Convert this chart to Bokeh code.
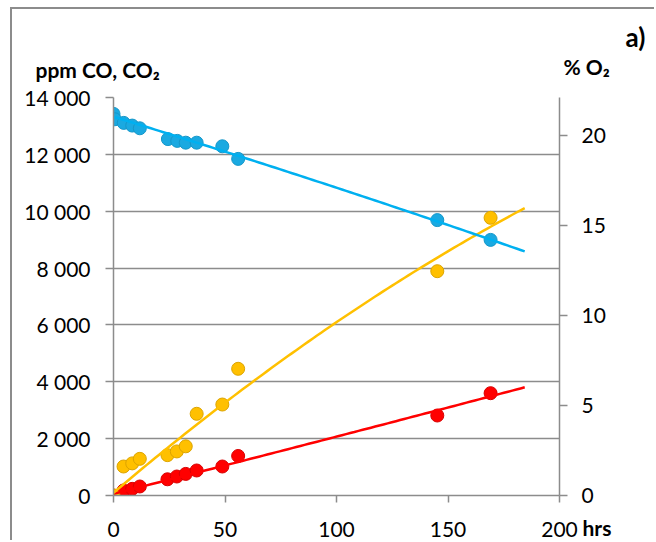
import numpy as np
from bokeh.plotting import figure
from bokeh.models import (Range1d, LinearAxis, FixedTicker, Label)
from bokeh.embed import file_html
from bokeh.resources import INLINE

# ---- data ----
t_co = [0, 4.5, 8.4, 11.8, 24.2, 28.4, 32.4, 37.3, 48.8, 55.9, 145.2, 169.1]
co_ppm = [0, 176, 234, 317, 570, 668, 760, 880, 1020, 1390, 2814, 3599]
co2_ppm = [0, 1020, 1130, 1290, 1420, 1550, 1730, 2874, 3200, 4457, 7890, 9768]

t_o2 = [0, 0.6, 4.6, 8.4, 11.8, 24.4, 28.6, 32.4, 37.3, 48.8, 55.9, 145.2, 169.1]
o2_pct = [21.2, 20.9, 20.7, 20.55, 20.4, 19.8, 19.7, 19.6, 19.6, 19.4, 18.7, 15.3, 14.2]

# trendline values
trend_co_t = [0, 66.1, 97.5, 129, 184.4]
trend_co = [60, 1372, 2051, 2638, 3810]
trend_co2_t = [0, 46.6, 66.1, 90, 129, 184.4]
trend_co2 = [70, 3106, 4282, 5453, 7589, 10121]
trend_o2_t = [0, 13.6, 79.6, 129, 184.4]
trend_o2 = [21.05, 20.5, 17.96, 15.87, 13.57]

x_ticks = [0, 50, 100, 150, 200]
left_ticks = [0, 2000, 4000, 6000, 8000, 10000, 12000, 14000]
left_labels = ["0", "2 000", "4 000", "6 000", "8 000", "10 000", "12 000", "14 000"]
right_ticks = [0, 5, 10, 15, 20]

FONT = "Lato"
GREY = "#8c8c8c"
BLUE = "#1aa9e1"
YELLOW = "#ffc000"
RED = "#ff0000"

p = figure(width=644, height=533, output_backend="svg", toolbar_location=None,
           x_range=Range1d(0, 200), y_range=Range1d(0, 14000),
           min_border_left=101, min_border_right=97, min_border_top=88, min_border_bottom=47)
p.margin = (7, 0, 0, 10)
p.styles = {"border-left": "2px solid #8c8c8c", "border-top": "2px solid #8c8c8c"}
p.extra_y_ranges = {"o2": Range1d(0, 22.11)}
p.outline_line_color = None
p.background_fill_color = "white"
p.border_fill_color = "white"

def style_axis(ax, ticks, tick_out, standoff):
    ax.ticker = FixedTicker(ticks=ticks)
    ax.axis_line_color = GREY
    ax.axis_line_width = 1.5
    ax.major_tick_line_color = GREY
    ax.major_tick_line_width = 1.5
    ax.major_tick_in = 0
    ax.major_tick_out = tick_out
    ax.minor_tick_line_color = None
    ax.major_label_text_font = FONT
    ax.major_label_text_font_size = "21px"
    ax.major_label_text_color = "black"
    ax.major_label_standoff = standoff

style_axis(p.xaxis[0], x_ticks, 7, 19)
style_axis(p.yaxis[0], left_ticks, 8, 15)
p.yaxis[0].major_label_overrides = {t: s for t, s in zip(left_ticks, left_labels)}

ax_r = LinearAxis(y_range_name="o2")
style_axis(ax_r, right_ticks, 8, 14)
p.add_layout(ax_r, "right")

p.xgrid.grid_line_color = None
p.ygrid.ticker = FixedTicker(ticks=left_ticks)
p.ygrid.grid_line_color = GREY
p.ygrid.grid_line_width = 1.5

def trend(t, y):
    c = np.polyfit(t, y, 2)
    xs = np.linspace(min(t), max(t), 100)
    return xs, np.polyval(c, xs)

p.scatter(t_co, co_ppm, size=13, fill_color=RED, line_color="#d80000", line_width=1)
p.scatter(t_co, co2_ppm, size=13, fill_color=YELLOW, line_color="#dca400", line_width=1)
p.scatter(t_o2, o2_pct, size=13, fill_color=BLUE, line_color="#1597c9", line_width=1, y_range_name="o2")

xs, ys = trend(trend_co_t, trend_co)
p.line(xs, ys, line_color=RED, line_width=2.5)
xs, ys = trend(trend_co2_t, trend_co2)
p.line(xs, ys, line_color=YELLOW, line_width=2.5)
xs, ys = trend(trend_o2_t, trend_o2)
p.line(xs, ys, line_color="#00b0f0", line_width=2.5, y_range_name="o2")

# texts: placed in side panels (so they are not clipped to the frame), canvas units
def lab(x, y, text, size, side):
    p.add_layout(Label(x=x, y=y, x_units="canvas", y_units="canvas", text=text,
                       text_font=FONT, text_font_style="bold",
                       text_font_size=size, text_baseline="middle", text_align="left",
                       text_color="black"), side)

lab(21, 58, "ppm CO, CO₂", "21px", "above")
lab(549, 55, "% O₂", "21px", "above")
lab(611, 25, "a)", "26px", "above")
lab(568, 516, "hrs", "21px", "right")

open("out.html", "w").write(file_html(p, INLINE))
